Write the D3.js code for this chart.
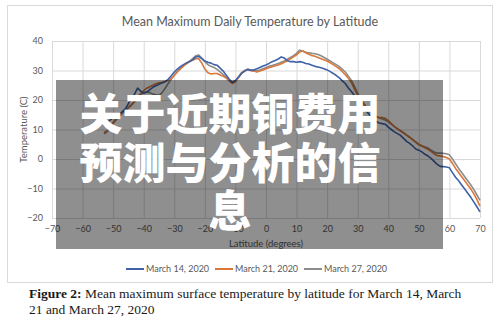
<!DOCTYPE html>
<html>
<head>
<meta charset="utf-8">
<script src="https://cdn.jsdelivr.net/npm/d3@7"></script>
<style>
  body { margin: 0; background: #fff; }
  svg { display: block; }
</style>
</head>
<body>
<div id="chart-area"></div>
<script>
// Data (1 degree steps, -53 .. 70)
const latitudes = d3.range(-53, 71)
const march14 = [12.8, 12.5, 13.2, 14.0, 14.5, 15.3, 16.0, 17.0, 18.8, 20.5, 22.0, 24.0, 23.0, 22.4, 22.6, 23.5, 24.3, 24.8, 25.3, 25.8,
  26.2, 27.0, 28.2, 29.5, 30.5, 31.3, 32.0, 32.6, 33.0, 33.6, 34.6, 34.8, 34.0, 33.2, 32.8, 32.5, 32.0, 31.8, 30.8, 29.8,
  28.4, 27.0, 26.0, 26.6, 27.8, 29.0, 29.8, 30.4, 30.0, 30.2, 30.6, 31.0, 31.5, 31.9, 32.4, 33.0, 33.4, 33.9, 34.6, 34.2,
  33.3, 33.0, 33.0, 32.8, 33.0, 32.8, 32.4, 32.2, 31.8, 31.4, 31.2, 30.9, 30.6, 30.2, 29.6, 29.0, 28.3, 27.5, 26.5, 25.5,
  24.0, 22.8, 21.5, 20.0, 18.8, 17.2, 16.0, 14.8, 13.8, 12.8, 12.2, 12.0, 11.8, 10.8, 10.0, 9.2, 8.6, 8.0, 7.0, 6.0,
  5.3, 4.4, 3.4, 3.0, 2.4, 1.6, 1.0, 0.2, -0.8, -1.8, -2.5, -2.6, -2.7, -3.0, -4.6, -6.2, -7.4, -8.8, -10.2, -11.6,
  -13.0, -14.6, -16.2, -17.9]
const march21 = [9.0, 9.5, 11.0, 12.5, 13.8, 15.0, 16.0, 16.8, 17.5, 18.5, 19.8, 21.0, 22.2, 23.2, 24.0, 24.5, 25.0, 25.5, 25.8, 26.0,
  26.3, 26.6, 27.3, 28.3, 29.5, 30.5, 31.5, 32.3, 33.0, 33.5, 34.0, 34.0, 32.5, 30.5, 29.2, 28.8, 29.0, 29.0, 28.5, 28.0,
  27.4, 26.5, 25.6, 26.2, 27.5, 29.0, 29.8, 30.3, 30.0, 29.8, 29.5, 29.8, 30.2, 30.6, 30.9, 31.3, 31.6, 31.9, 32.3, 32.8,
  33.4, 34.0, 34.6, 35.3, 36.3, 36.6, 36.0, 35.5, 35.1, 34.8, 34.4, 34.0, 33.6, 33.2, 32.6, 32.0, 31.3, 30.6, 29.6, 28.5,
  27.3, 25.8, 23.6, 21.5, 19.8, 18.5, 17.2, 16.0, 15.0, 14.3, 14.0, 14.1, 13.8, 13.0, 12.0, 11.0, 10.2, 9.5, 8.8, 8.0,
  7.3, 6.5, 5.6, 4.8, 4.3, 3.8, 3.3, 2.6, 1.8, 1.2, 1.0, 0.8, 0.5, 0.0, -1.5, -3.2, -4.6, -6.0, -7.4, -8.8,
  -10.2, -11.8, -13.8, -16.0]
const march27 = [8.5, 9.2, 10.5, 12.0, 13.2, 14.5, 15.5, 16.5, 17.3, 18.2, 19.3, 20.5, 21.8, 22.5, 22.8, 22.5, 22.0, 21.8, 21.6, 22.5,
  24.0, 25.6, 27.0, 28.5, 29.7, 30.7, 31.6, 32.4, 33.2, 34.0, 35.0, 35.2, 34.2, 33.0, 32.0, 31.4, 31.0, 30.4, 29.5, 28.6,
  27.6, 26.6, 25.8, 26.4, 27.8, 29.3, 30.0, 30.4, 30.2, 30.0, 29.9, 30.2, 30.6, 31.0, 31.4, 31.7, 32.0, 32.4, 32.8, 33.2,
  33.8, 34.4, 35.0, 35.8, 36.9, 36.6, 36.2, 36.0, 35.8, 35.7, 35.4, 35.0, 34.4, 33.8, 33.2, 32.6, 32.0, 31.3, 30.4, 29.4,
  28.0, 26.5, 24.5, 22.2, 20.4, 18.8, 17.4, 16.2, 15.2, 14.5, 14.0, 13.6, 13.2, 12.6, 11.8, 11.0, 10.3, 9.6, 8.9, 8.2,
  7.4, 6.6, 5.8, 5.0, 4.5, 4.1, 3.7, 3.0, 2.4, 2.0, 2.0, 1.9, 1.8, 1.4, 0.0, -1.6, -3.2, -4.6, -6.0, -7.4,
  -8.8, -10.4, -12.2, -14.0]
const seriesNames = ["March 14, 2020", "March 21, 2020", "March 27, 2020"]
const seriesColors = ["#3f62a8", "#d9783a", "#8c8c8c"]
const xTicks = d3.range(-70, 71, 10)
const yTicks = d3.range(-20, 41, 10)

const W = 500, H = 330
const MARGIN = { LEFT: 52, RIGHT: 20, TOP: 41, BOTTOM: 112 }
const WIDTH = W - MARGIN.LEFT - MARGIN.RIGHT
const HEIGHT = H - MARGIN.TOP - MARGIN.BOTTOM
const FONT = "Lato, 'Open Sans', sans-serif"

const svg = d3.select("#chart-area").append("svg")
  .attr("width", W)
  .attr("height", H)

svg.append("rect").attr("width", W).attr("height", H).attr("fill", "#fff")

// chart frame
svg.append("rect")
  .attr("x", 7.5).attr("y", 5.5)
  .attr("width", 485).attr("height", 277)
  .attr("fill", "none").attr("stroke", "#d9d9d9")

svg.append("text")
  .attr("x", 250).attr("y", 26)
  .attr("text-anchor", "middle")
  .attr("font-family", FONT).attr("font-size", "12.5px")
  .attr("fill", "#595959")
  .text("Mean Maximum Daily Temperature by Latitude")

const g = svg.append("g")
  .attr("transform", `translate(${MARGIN.LEFT}, ${MARGIN.TOP})`)

const x = d3.scaleLinear().domain([-70, 70]).range([0, WIDTH])
const y = d3.scaleLinear().domain([-20, 40]).range([HEIGHT, 0])

// grid + tick labels
const xAxis = g.append("g")
  .attr("transform", `translate(0, ${HEIGHT})`)
  .call(d3.axisBottom(x).tickValues(xTicks).tickSize(-HEIGHT).tickPadding(8))
const yAxis = g.append("g")
  .call(d3.axisLeft(y).tickValues(yTicks).tickSize(-WIDTH).tickPadding(9))

;[xAxis, yAxis].forEach(a => {
  a.select(".domain").remove()
  a.selectAll("line").attr("stroke", "#d9d9d9")
  a.selectAll("text")
    .attr("fill", "#595959")
    .attr("font-family", FONT)
    .attr("font-size", "9px")
})

g.append("text")
  .attr("transform", "rotate(-90)")
  .attr("x", -HEIGHT / 2).attr("y", -25)
  .attr("text-anchor", "middle")
  .attr("font-family", FONT).attr("font-size", "9.5px")
  .attr("fill", "#595959")
  .text("Temperature (C)")

g.append("text")
  .attr("x", WIDTH / 2).attr("y", HEIGHT + 29)
  .attr("text-anchor", "middle")
  .attr("font-family", FONT).attr("font-size", "9.5px")
  .attr("fill", "#595959")
  .text("Latitude (degrees)")

// lines
const allSeries = [march14, march21, march27]
const line = d3.line()
  .x((d, i) => x(latitudes[i]))
  .y(d => y(d))

// draw gray first so blue and orange sit on top
;[2, 1, 0].forEach(k => {
  g.append("path")
    .datum(allSeries[k])
    .attr("fill", "none")
    .attr("stroke", seriesColors[k])
    .attr("stroke-width", 1.6)
    .attr("stroke-linejoin", "round")
    .attr("d", line)
})

// legend
const legendX = [126, 215, 304]
const legend = svg.append("g")
seriesNames.forEach((name, i) => {
  legend.append("line")
    .attr("x1", legendX[i]).attr("x2", legendX[i] + 18)
    .attr("y1", 269).attr("y2", 269)
    .attr("stroke", seriesColors[i]).attr("stroke-width", 2)
  legend.append("text")
    .attr("x", legendX[i] + 20).attr("y", 272)
    .attr("font-family", FONT).attr("font-size", "9px")
    .attr("fill", "#595959")
    .text(name)
})

// caption
const cap = svg.append("text")
  .attr("font-family", "'Liberation Serif', serif")
  .attr("font-size", "13.5px")
  .attr("fill", "#1a1a1a")
cap.append("tspan").attr("x", 29).attr("y", 298)
  .attr("font-weight", "bold").text("Figure 2:")
cap.append("tspan")
  .text(" Mean maximum surface temperature by latitude for March 14, March")
cap.append("tspan").attr("x", 29).attr("y", 314)
  .text("21 and March 27, 2020")

// overlay banner
svg.append("rect")
  .attr("x", 56).attr("y", 80)
  .attr("width", 387).attr("height", 169)
  .attr("fill", "#000").attr("fill-opacity", 0.44)

const banner = ["关于近期铜费用", "预测与分析的信", "息"]
svg.append("g").selectAll("text")
  .data(banner)
  .join("text")
  .attr("x", 230)
  .attr("y", (d, i) => 130 + i * 48.5)
  .attr("text-anchor", "middle")
  .attr("font-family", "'Noto Sans CJK SC', sans-serif")
  .attr("font-weight", 900)
  .attr("font-size", "43px")
  .attr("fill", "#fff")
  .text(d => d)
</script>
</body>
</html>
